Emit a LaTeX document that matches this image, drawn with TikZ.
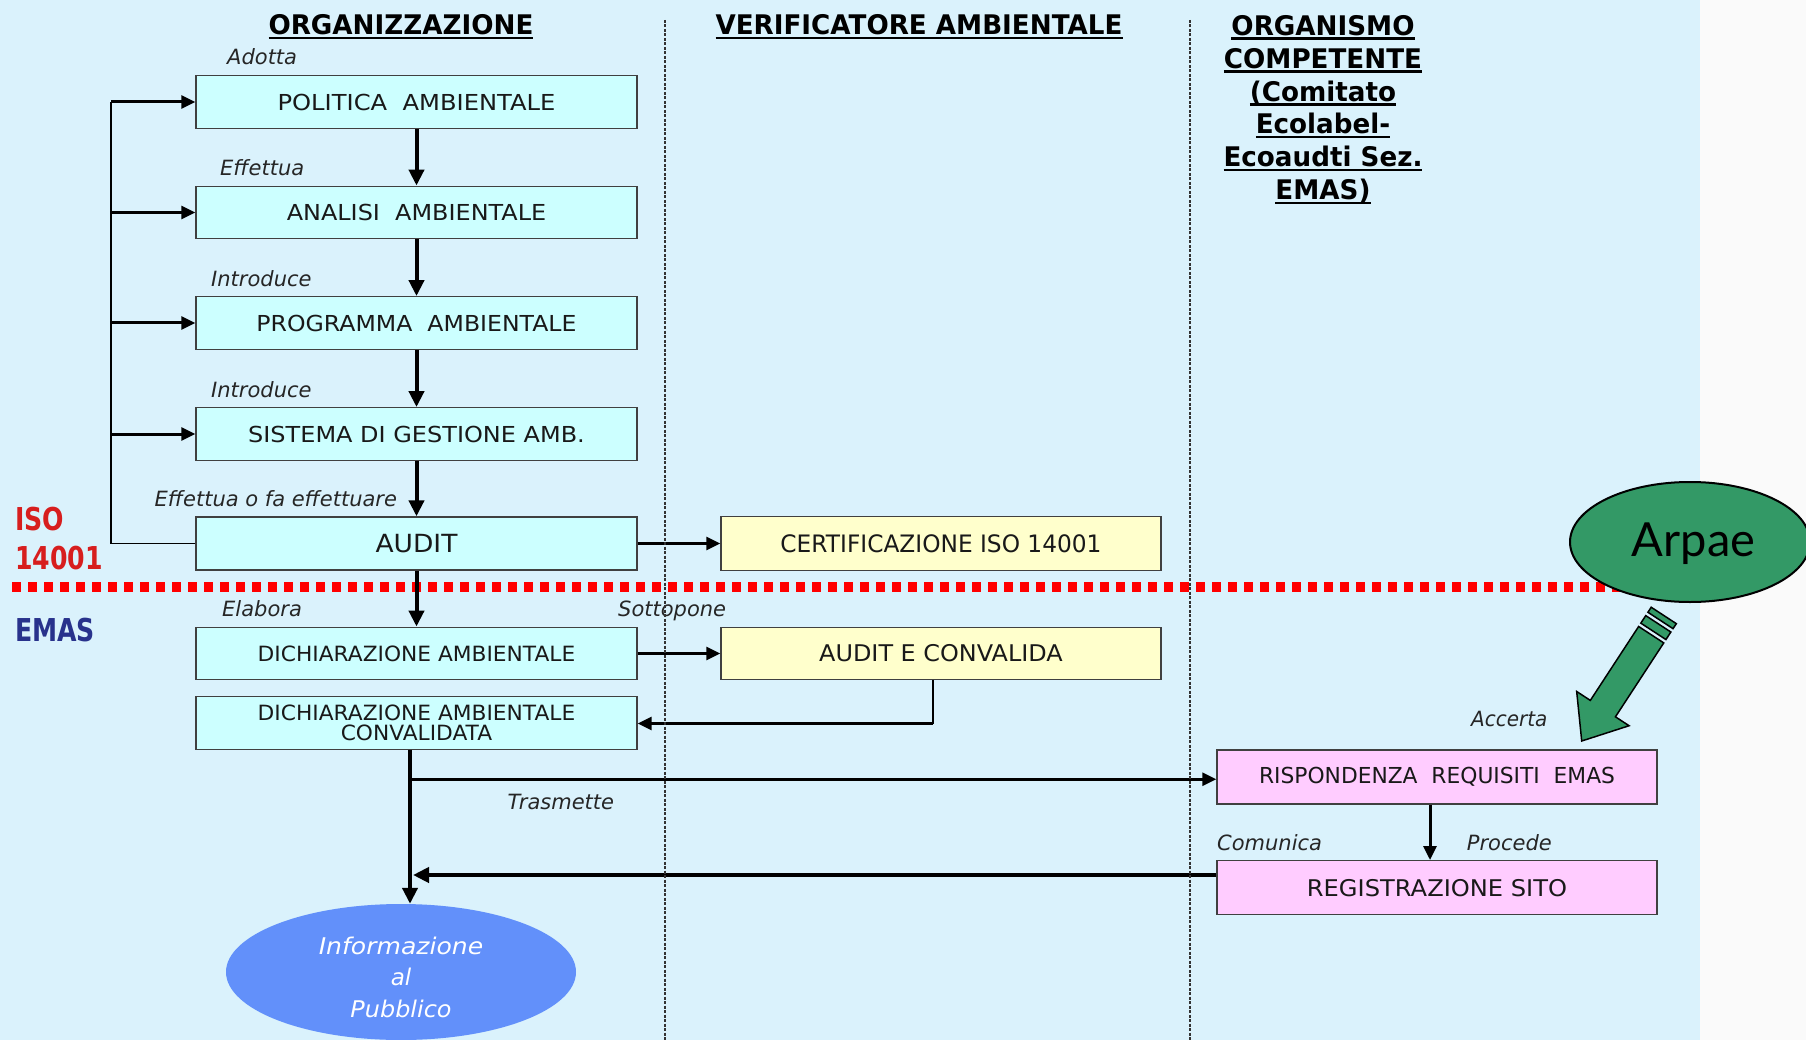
\documentclass[tikz,border=0pt]{standalone}
\usepackage{fontspec}
\usepackage{graphicx}
\setmainfont{DejaVu Sans}
\newfontfamily\arpf{Lato}
\usetikzlibrary{arrows.meta,shapes.geometric}
\definecolor{bgblue}{RGB}{218,242,252}
\definecolor{bgwhite}{RGB}{250,250,250}
\definecolor{boxcyan}{RGB}{204,255,255}
\definecolor{boxyellow}{RGB}{255,255,204}
\definecolor{boxpink}{RGB}{255,204,255}
\definecolor{arpgreen}{RGB}{51,153,102}
\definecolor{infoblue}{RGB}{98,144,250}
\definecolor{isored}{RGB}{215,30,30}
\definecolor{emasblue}{RGB}{40,50,140}
\definecolor{dotred}{RGB}{255,0,0}
\newcommand\hs[2]{\scalebox{#1}[1]{#2}}
\newcommand\myul[1]{\setbox0=\hbox{#1}\rlap{\rule[-4.5pt]{\wd0}{2.4pt}}\box0}
\tikzset{
 bx/.style={draw=black!75, line width=1.4pt, minimum width=441pt, minimum height=52.5pt, inner sep=0pt, fill=boxcyan, text=black!90, font=\fontsize{22}{24}\selectfont},
 ybx/.style={bx, fill=boxyellow, minimum width=440pt},
 pbx/.style={bx, fill=boxpink, minimum width=440pt, minimum height=54pt},
 lbl/.style={anchor=base west, inner sep=0pt, text=black!85, font=\itshape\fontsize{21}{24}\selectfont},
 hdr/.style={inner sep=0pt, text=black, font=\bfseries\fontsize{27}{32.9}\selectfont, align=center},
 side/.style={anchor=base west, inner sep=0pt, font=\bfseries\fontsize{31.5}{34}\selectfont},
 big/.style={line width=4pt, -{Triangle[length=16pt,width=15pt]}},
 med/.style={line width=3pt, -{Triangle[length=14pt,width=13pt]}},
 thn/.style={line width=1.8pt},
 divider/.style={line width=1.4pt, black!80, dash pattern=on 3pt off 1.5pt},
 dotline/.style={line width=10pt, dotred, dash pattern=on 9pt off 7pt},
 greenshape/.style={fill=arpgreen, draw=black, line width=1.5pt, line join=miter},
}
\begin{document}
\begin{tikzpicture}[x=1pt,y=-1pt]
\useasboundingbox (0,0) rectangle (1806,1040);
\fill[bgwhite] (0,0) rectangle (1806,1040);
\fill[bgblue] (0,0) rectangle (1700,1040);

% separator ISO / EMAS
\draw[dotline] (12,586.5) -- (1630,586.5);

% headers
\node[hdr, anchor=base] (h1) at (401,35) {\myul{\hs{0.97}{ORGANIZZAZIONE}}};
\node[hdr, anchor=base] (h2) at (919,35) {\myul{\hs{0.97}{VERIFICATORE AMBIENTALE}}};
\node[hdr, anchor=north] (h3) at (1323,15) {\myul{\hs{0.97}{ORGANISMO}}\\\myul{\hs{0.97}{COMPETENTE}}\\\myul{\hs{0.97}{(Comitato}}\\\myul{\hs{0.97}{Ecolabel-}}\\\myul{\hs{0.97}{Ecoaudti Sez.}}\\\myul{\hs{0.97}{EMAS)}}};

% side labels
\node[side, text=isored] (iso) at (15,530) {\hs{0.8}{ISO}};
\node[side, text=isored] (iso2) at (15,569.3) {\hs{0.8}{14001}};
\node[side, text=emasblue] (emas) at (15,641) {\hs{0.8}{EMAS}};

% organisation boxes
\node[bx] (pol) at (416.5,102) {\hs{1.1}{POLITICA\ \ AMBIENTALE}};
\node[bx] (ana) at (416.5,212.5) {\hs{1.087}{ANALISI\ \ AMBIENTALE}};
\node[bx] (prg) at (416.5,323) {\hs{1.073}{PROGRAMMA\ \ AMBIENTALE}};
\node[bx] (sga) at (416.5,434) {\hs{1.09}{SISTEMA DI GESTIONE AMB.}};
\node[bx, minimum height=53pt, font=\fontsize{25}{27}\selectfont] (aud) at (416.5,543.5) {\hs{1.06}{AUDIT}};
\node[bx, font=\fontsize{21}{23}\selectfont] (dic) at (416.5,653.5) {\hs{1.035}{DICHIARAZIONE AMBIENTALE}};
\node[bx, align=center, font=\fontsize{21}{20.6}\selectfont] (dcv) at (416.5,723) {\hs{1.035}{DICHIARAZIONE AMBIENTALE}\\\hs{1.035}{CONVALIDATA}};

% verifier boxes
\node[ybx, minimum height=54pt, font=\fontsize{24}{26}\selectfont] (cer) at (941,543.5) {\hs{0.97}{CERTIFICAZIONE ISO 14001}};
\node[ybx, font=\fontsize{23}{25}\selectfont] (auc) at (941,653.5) {\hs{1.04}{AUDIT E CONVALIDA}};

% competent body boxes
\node[pbx] (ris) at (1437,777) {\hs{0.99}{RISPONDENZA\ \ REQUISITI\ \ EMAS}};
\node[pbx, font=\fontsize{23}{25}\selectfont] (reg) at (1437,887.7) {\hs{1.05}{REGISTRAZIONE SITO}};

% information ellipse
\node[ellipse, fill=infoblue, minimum width=350pt, minimum height=136pt, inner sep=0pt] (inf) at (401,972) {};
\node[align=center, text=white, inner sep=0pt, anchor=north, font=\itshape\fontsize{23}{31.5}\selectfont] (inft) at (401,936.5) {\hs{1.09}{Informazione}\\al\\\hs{1.04}{Pubblico}};

% labels
\node[lbl] (l1) at (227,65) {Adotta};
\node[lbl] (l2) at (220,175.7) {Effettua};
\node[lbl] (l3) at (211,286.7) {Introduce};
\node[lbl] (l4) at (211,397.5) {Introduce};
\node[lbl] (l5) at (154.5,506.7) {Effettua o fa effettuare};
\node[lbl] (l6) at (222,616) {Elabora};
\node[lbl] (l7) at (618,616) {Sottopone};
\node[lbl] (l8) at (507.5,809) {Trasmette};
\node[lbl] (l9) at (1471,726.7) {\hs{0.95}{Accerta}};
\node[lbl] (l10) at (1217,850) {Comunica};
\node[lbl] (l11) at (1466.7,850) {Procede};

% feedback loop
\coordinate (fbt) at (111,102);
\coordinate (fbb) at (111,543.5);
\draw[thn] (aud.west) -- (fbb) -- (fbt);
\draw[med] (fbt) -- (pol.west);
\draw[med] (fbt |- ana.west) -- (ana.west);
\draw[med] (fbt |- prg.west) -- (prg.west);
\draw[med] (fbt |- sga.west) -- (sga.west);

% main chain
\draw[big] (pol) -- (ana);
\draw[big] (ana) -- (prg);
\draw[big] (prg) -- (sga);
\draw[big] (sga) -- (aud);
\draw[big] (aud) -- (dic);
\draw[med] (aud) -- (cer);
\draw[med] (dic) -- (auc);
\coordinate (ac) at (933,723.5);
\draw[thn] (auc.south -| ac) -- (ac);
\draw[med] (ac) -- (ac -| dcv.east);

\coordinate (vx) at (410,779.3);
\draw[big] (dcv.south -| vx) -- (inf.north -| vx);
\draw[line width=2.7pt, -{Triangle[length=14pt,width=13pt]}] (vx) -- (vx -| ris.west);
\coordinate (cy) at (413,875);
\draw[big] (cy -| reg.west) -- (cy);
\coordinate (rx) at (1430,800);
\draw[med] (ris.south -| rx) -- (reg.north -| rx);

% column dividers
\draw[divider] (665,20) -- (665,1040);
\draw[divider] (1190,20) -- (1190,1040);

% Arpae
\node[ellipse, fill=arpgreen, draw=black, line width=2pt, minimum width=240pt, minimum height=120pt, inner sep=0pt] (arp) at (1690,542) {};
\node[anchor=base, inner sep=0pt, font=\arpf\fontsize{47}{50}\selectfont] (arpt) at (1693.5,556) {Arpae};

% striped green arrow
\begin{scope}[shift={(1581.7,741)}, x={(0.547pt,0.837pt)}, y={(0.837pt,-0.547pt)}]
\path[greenshape] (0,0) -- (38.7,31.3) -- (38.7,15) -- (127,15) -- (127,-15) -- (38.7,-15) -- (38.7,-31.3) -- cycle;
\path[greenshape] (131,-15) -- (140,-15) -- (140,15) -- (131,15) -- cycle;
\path[greenshape] (144,-15) -- (150,-15) -- (150,15) -- (144,15) -- cycle;
\end{scope}
\end{tikzpicture}
\end{document}
